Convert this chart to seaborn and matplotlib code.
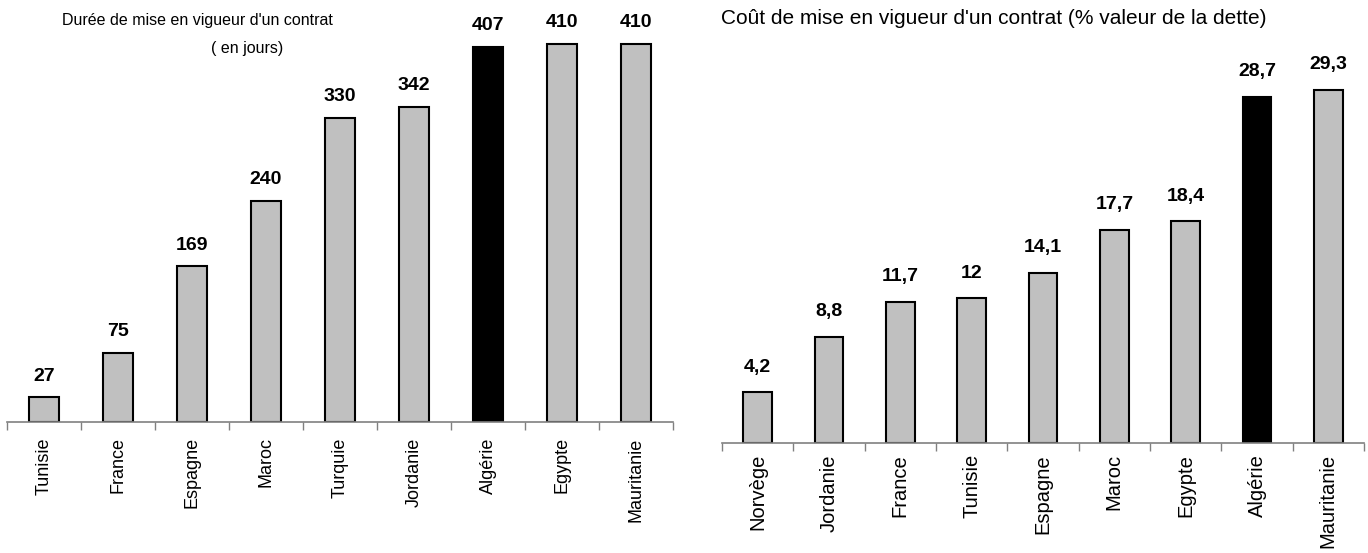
import matplotlib
matplotlib.use('Agg')
import matplotlib.pyplot as plt
import seaborn as sns
import numpy as np

# Durée (jours)
pays_duree = ['Tunisie', 'France', 'Espagne', 'Maroc', 'Turquie', 'Jordanie',
              'Algérie', 'Egypte', 'Mauritanie']
duree = [27, 75, 169, 240, 330, 342, 407, 410, 410]

# Coût (% valeur de la dette)
pays_cout = ['Norvège', 'Jordanie', 'France', 'Tunisie', 'Espagne', 'Maroc',
             'Egypte', 'Algérie', 'Mauritanie']
cout = [4.2, 8.8, 11.7, 12, 14.1, 17.7, 18.4, 28.7, 29.3]

focus = 'Algérie'

sns.set_theme(style='white')
plt.rcParams['font.family'] = ['Liberation Sans', 'DejaVu Sans']
plt.rcParams['text.color'] = 'black'
plt.rcParams['xtick.color'] = 'black'

fig = plt.figure(figsize=(13.68, 5.53), dpi=100)
W, H = 1368, 553
ax1 = fig.add_axes([7 / W, (H - 422) / H, 666 / W, 422 / H])
ax2 = fig.add_axes([722 / W, (H - 443) / H, 642 / W, 443 / H])


def fmt(v):
    s = f'{v:g}'
    return s.replace('.', ',')


def trace(ax, cats, vals, ymax, fs_tick, pad, offset):
    pal = {c: ('black' if c == focus else '#c0c0c0') for c in cats}
    sns.barplot(x=cats, y=vals, hue=cats, palette=pal, legend=False,
                edgecolor='black', linewidth=1.5, width=0.4, saturation=1, ax=ax)
    ax.set_ylim(0, ymax)
    ax.set_xlim(-0.5, len(cats) - 0.5)
    for s in ['top', 'left', 'right']:
        ax.spines[s].set_visible(False)
    ax.spines['bottom'].set_color('#808080')
    ax.spines['bottom'].set_linewidth(1.2)
    ax.set_yticks([])
    ax.set_xticks(range(len(cats)))
    ax.set_xticklabels(cats, rotation=90, fontsize=fs_tick, color='black')
    ax.set_xticks(np.arange(-0.5, len(cats), 1), minor=True)
    ax.tick_params(axis='x', which='major', length=0, pad=pad)
    ax.tick_params(axis='x', which='minor', length=6, width=1, color='#808080',
                   direction='out', bottom=True)
    for i, v in enumerate(vals):
        ax.annotate(fmt(v), (i, v), xytext=(0, offset), textcoords='offset points',
                    ha='center', va='bottom', fontsize=14, fontweight='bold',
                    color='black')
    ax.set_xlabel('')
    ax.set_ylabel('')


trace(ax1, pays_duree, duree, 422 / 0.922, 13, 11, 9)
trace(ax2, pays_cout, cout, 443 / 12.05, 14.5, 8, 12)

fig.text(197 / W, 1 - 20 / H, "Durée de mise en vigueur d'un contrat",
         ha='center', va='center', fontsize=11.5)
fig.text(247 / W, 1 - 49 / H, "( en jours)", ha='center', va='center', fontsize=11.5)
fig.text(994 / W, 1 - 18 / H, "Coût de mise en vigueur d'un contrat (% valeur de la dette)",
         ha='center', va='center', fontsize=15)

plt.savefig('out.png', dpi=100)
